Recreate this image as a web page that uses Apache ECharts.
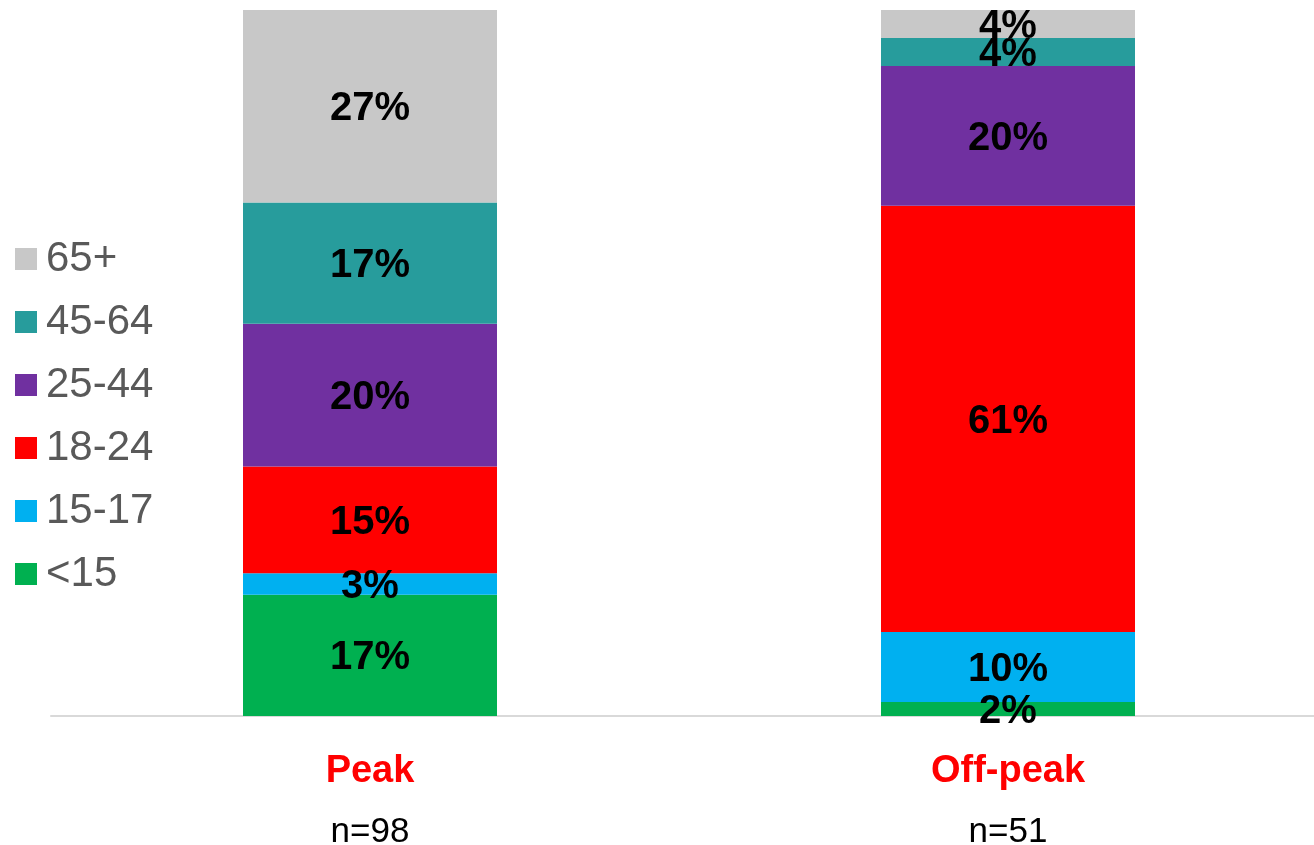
<!DOCTYPE html>
<html>
<head>
<meta charset="utf-8">
<title>Peak vs Off-peak age profile</title>
<script src="https://cdn.jsdelivr.net/npm/echarts@6/dist/echarts.min.js"></script>
<style>
  html, body { margin: 0; padding: 0; background: #fff; }
  #chart { width: 1314px; height: 845px; }
</style>
</head>
<body>
<div id="chart"></div>
<script>
// categories and sample sizes
const categories = ['Peak', 'Off-peak'];
const sampleSizes = ['n=98', 'n=51'];
// age groups, bottom to top
const ageGroups = ['<15', '15-17', '18-24', '25-44', '45-64', '65+'];
// shown percentages per age group: [Peak, Off-peak]
const under15 = [17, 2];
const age15to17 = [3, 10];
const age18to24 = [15, 61];
const age25to44 = [20, 20];
const age45to64 = [17, 4];
const age65plus = [27, 4];

const groupValues = [under15, age15to17, age18to24, age25to44, age45to64, age65plus];
const colors = ['#00B050', '#00B0F0', '#FF0000', '#7030A0', '#279C9C', '#C8C8C8'];
const font = 'Liberation Sans, Arial, sans-serif';

// the bars are 100% stacked, so each column is scaled to its own total
const totals = categories.map((c, i) => groupValues.reduce((s, arr) => s + arr[i], 0));

const chart = echarts.init(document.getElementById('chart'));
const option = {
  animation: false,
  legend: {
    orient: 'vertical',
    left: 15,
    top: 238,
    padding: 0,
    data: ageGroups.slice().reverse(),
    icon: 'rect',
    itemWidth: 22,
    itemHeight: 22,
    itemGap: 21,
    textStyle: {
      fontFamily: font,
      fontSize: 42,
      lineHeight: 42,
      color: '#595959',
      padding: [0, 0, 0, 4]
    }
  },
  grid: { left: 51, right: -13, top: 10, bottom: 129, outerBoundsMode: 'none', containLabel: false },
  xAxis: {
    type: 'category',
    data: categories,
    axisTick: { show: false },
    axisLine: { lineStyle: { color: '#d9d9d9', width: 2 } },
    axisLabel: {
      margin: 26,
      formatter: (v, i) => '{a|' + v + '}\n{b|' + sampleSizes[i] + '}',
      rich: {
        a: { fontFamily: font, fontSize: 38, fontWeight: 'bold', color: '#FF0000', lineHeight: 60 },
        b: { fontFamily: font, fontSize: 35, color: '#000', lineHeight: 60 }
      }
    }
  },
  yAxis: {
    type: 'value',
    min: 0,
    max: 100,
    show: false
  },
  series: ageGroups.map((name, k) => ({
    name: name,
    type: 'bar',
    stack: 'total',
    barWidth: 254,
    itemStyle: { color: colors[k] },
    label: {
      show: true,
      position: 'inside',
      offset: [0, 3],
      fontFamily: font,
      fontSize: 40,
      fontWeight: 'bold',
      color: '#000',
      formatter: p => groupValues[k][p.dataIndex] + '%'
    },
    data: groupValues[k].map((v, i) => v / totals[i] * 100)
  }))
};
chart.setOption(option);
window.addEventListener('resize', () => chart.resize());
</script>
</body>
</html>
